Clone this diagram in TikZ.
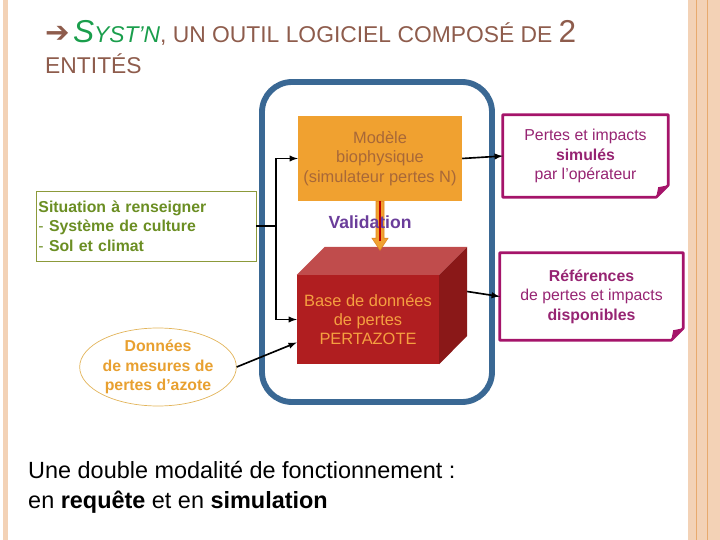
\documentclass[tikz,border=0pt]{standalone}
\usepackage{fontspec}
\setmainfont{Liberation Sans}
\newfontfamily\symbfont{DejaVu Sans}
\usepackage{xcolor}
\usetikzlibrary{shapes.geometric, arrows, positioning, calc}

\definecolor{peach}{RGB}{243,210,182}
\definecolor{peachline}{RGB}{232,170,110}
\definecolor{titlebrown}{RGB}{142,92,76}
\definecolor{titlegreen}{RGB}{26,158,76}
\definecolor{frameblue}{RGB}{58,104,148}
\definecolor{modelfill}{RGB}{240,161,48}
\definecolor{modeltext}{RGB}{168,104,56}
\definecolor{valedge}{RGB}{224,136,32}
\definecolor{notered}{RGB}{165,20,106}
\definecolor{notetext}{RGB}{150,36,114}
\definecolor{situolive}{RGB}{140,154,58}
\definecolor{situtext}{RGB}{107,142,35}
\definecolor{dbfront}{RGB}{176,30,32}
\definecolor{dbtop}{RGB}{192,76,76}
\definecolor{dbside}{RGB}{138,24,24}
\definecolor{dbtext}{RGB}{245,160,64}
\definecolor{ovalline}{RGB}{226,180,90}
\definecolor{ovaltext}{RGB}{232,160,48}
\definecolor{validpurple}{RGB}{106,61,154}
\definecolor{validred}{RGB}{192,0,0}

\newcommand{\setfs}[2]{\fontsize{#1}{#2}\selectfont}

\begin{document}
\begin{tikzpicture}[x=0.03cm, y=-0.03cm, >=latex,
  conn/.style={black, line width=1.4pt},
  notebox/.style={minimum width=#1, minimum height=2.5cm, align=center, inner sep=0pt, text=notetext, font=\setfs{13.5}{16.6}}]
\useasboundingbox (0,0) rectangle (720,540);

% page borders
\fill[peach] (3,0) rectangle (8,540);
\fill[peach] (688,0) rectangle (720,540);
\draw[peachline, line width=0.8pt] (696,0) -- (696,540);
\draw[peachline, line width=0.8pt] (707,0) -- (707,540);

% title
\node[anchor=base west, inner sep=0pt, text=titlebrown] (titre) at (45,43) {{\symbfont\bfseries\setfs{25}{25}➔} {\color{titlegreen}\itshape\setfs{27}{27}S\setfs{19.5}{19.5}YST'N}\setfs{19.5}{19.5}, UN OUTIL LOGICIEL COMPOSÉ DE {\setfs{27}{27}2}};
\node[anchor=base west, inner sep=0pt, text=titlebrown, font=\setfs{19.5}{19.5}] (titre2) at (45,74) {ENTITÉS};

% the tool
\draw[frameblue, line width=5pt, rounded corners=0.9cm] (262,82) rectangle (492,402);

\node[fill=modelfill, minimum width=4.92cm, minimum height=2.55cm, inner sep=0pt, align=center, text=modeltext, font=\setfs{14}{16.6}] (model) at (380,158.5) {Modèle\\biophysique\\(simulateur pertes N)};

\node[fill=dbfront, minimum width=4.26cm, minimum height=2.67cm, inner sep=0pt, align=center, text=dbtext, font=\setfs{14}{16.6}] (db) at (368,319.5) {Base de données\\de pertes\\PERTAZOTE};
\fill[dbtop] (db.north west) -- ++(28,-28) -- ([shift={(28,-28)}]db.north east) -- (db.north east) -- cycle;
\fill[dbside] (db.north east) -- ++(28,-28) -- ++(0,89) -- (db.south east) -- cycle;

% validation
\filldraw[fill=modelfill, draw=valedge, line width=0.5pt] ($(model.south)+(-4,0)$) -- ++(0,37) -- ++(-4,0) -- ++(8,12) -- ++(8,-12) -- ++(-4,0) -- ++(0,-37) -- cycle;
\node[font=\bfseries\setfs{15}{15}, text=validpurple] (valid) at (370,222) {Validation};
\draw[validred, line width=1.2pt] (model.south) -- ++(0,40);

% inputs
\node[draw=situolive, line width=0.8pt, minimum width=6.6cm, minimum height=2.1cm, text width=6.45cm, inner xsep=0.075cm, align=left, text=situtext, font=\setfs{13.5}{16.6}] (situ) at (146,226) {\textbf{Situation à renseigner}\\- \textbf{Système de culture}\\- \textbf{Sol et climat}};

\node[ellipse, draw=ovalline, line width=0.6pt, minimum width=4.56cm, minimum height=2.34cm, inner sep=0pt, align=center, text=ovaltext, font=\bfseries\setfs{13.5}{16.6}] (donnees) at (158,367) {Données\\de mesures de\\pertes d'azote};

% outputs
\node[notebox=4.95cm, minimum height=2.46cm] (simul) at (585.5,156) {Pertes et impacts\\\textbf{simulés}\\par l'opérateur};
\node[notebox=5.49cm, minimum height=2.61cm] (refs) at (591.5,296.5) {\textbf{Références}\\de pertes et impacts\\\textbf{disponibles}};
\foreach \n in {simul,refs} {
  \draw[notered, line width=2.2pt, line join=round] (\n.north west) -- (\n.north east) -- ([yshift=0.36cm]\n.south east) -- ([xshift=-0.36cm]\n.south east) -- (\n.south west) -- cycle;
  \fill[notered] ([yshift=0.36cm]\n.south east) -- ([xshift=-0.36cm]\n.south east) -- ([xshift=-0.3cm,yshift=0.3cm]\n.south east) -- cycle;
}

% connectors
\coordinate (bus) at (276,226);
\draw[conn] (situ.east) -- (bus);
\draw[conn, ->] (bus) |- (model.west);
\draw[conn, ->] (bus) |- (db.west);
\draw[conn, ->] (donnees.east) -- ([yshift=-0.69cm]db.west);
\draw[conn, ->] (model.east) -- (simul.west);
\draw[conn, ->] ([shift={(28,-28)}]db.east) -- (refs.west);

% caption
\node[anchor=west, inner sep=0pt, align=left, font=\setfs{20}{25.6}] (modalite) at (28,487) {Une double modalité de fonctionnement :\\en \textbf{requête} et en \textbf{simulation}};
\end{tikzpicture}
\end{document}
